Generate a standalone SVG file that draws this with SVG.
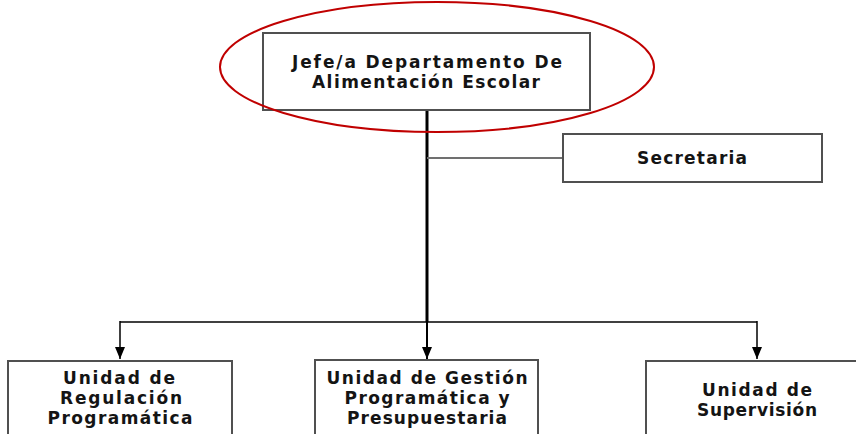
<svg xmlns="http://www.w3.org/2000/svg" width="856" height="434" viewBox="0 0 856 434">
<style>
.box{fill:#fff;stroke:#505050;stroke-width:2}
.t{font-family:"DejaVu Sans","Liberation Sans",sans-serif;font-weight:bold;font-size:17px;fill:#141414;text-anchor:middle}
.ln{stroke:#000;fill:none}
</style>
<defs>
<marker id="ah" viewBox="0 0 12 10" refX="12" refY="5" markerWidth="12" markerHeight="10" markerUnits="userSpaceOnUse" orient="auto">
<path d="M0,0 L12,5 L0,10 Z" fill="#000"/>
</marker>
</defs>
<rect width="856" height="434" fill="#fff"/>
<g id="connectors">
<line class="ln" x1="427" y1="110" x2="427" y2="322" stroke-width="3"/>
<line x1="427" y1="158" x2="563" y2="158" stroke="#707070" stroke-width="2"/>
<line class="ln" x1="120" y1="322" x2="757" y2="322" stroke-width="1.5"/>
<line class="ln" x1="120" y1="321" x2="120" y2="359" stroke-width="1.5" marker-end="url(#ah)"/>
<line class="ln" x1="427" y1="321" x2="427" y2="359" stroke-width="2" marker-end="url(#ah)"/>
<line class="ln" x1="757" y1="321" x2="757" y2="359" stroke-width="1.5" marker-end="url(#ah)"/>
</g>
<g id="jefe">
<rect class="box" x="263" y="33" width="327" height="77"/>
<text class="t" x="427" y="68" textLength="270" lengthAdjust="spacing">Jefe/a Departamento De</text>
<text class="t" x="426" y="88" textLength="228" lengthAdjust="spacing">Alimentación Escolar</text>
</g>
<g id="secretaria">
<rect class="box" x="563" y="134" width="259" height="48"/>
<text class="t" x="692" y="164" textLength="110" lengthAdjust="spacing">Secretaria</text>
</g>
<g id="regulacion">
<rect class="box" x="8" y="361" width="224" height="90"/>
<text class="t" x="119" y="384" textLength="112" lengthAdjust="spacing">Unidad de</text>
<text class="t" x="121" y="404" textLength="122" lengthAdjust="spacing">Regulación</text>
<text class="t" x="120" y="424" textLength="145" lengthAdjust="spacing">Programática</text>
</g>
<g id="gestion">
<rect class="box" x="315" y="360" width="223" height="90"/>
<text class="t" x="427" y="384" textLength="201" lengthAdjust="spacing">Unidad de Gestión</text>
<text class="t" x="427" y="404" textLength="165" lengthAdjust="spacing">Programática y</text>
<text class="t" x="427" y="424" textLength="160" lengthAdjust="spacing">Presupuestaria</text>
</g>
<g id="supervision">
<rect class="box" x="646" y="361" width="220" height="90"/>
<text class="t" x="757" y="396" textLength="110" lengthAdjust="spacing">Unidad de</text>
<text class="t" x="757" y="416" textLength="120" lengthAdjust="spacing">Supervisión</text>
</g>
<ellipse id="highlight" cx="437" cy="67" rx="217" ry="65" fill="none" stroke="#c00000" stroke-width="2"/>
</svg>
